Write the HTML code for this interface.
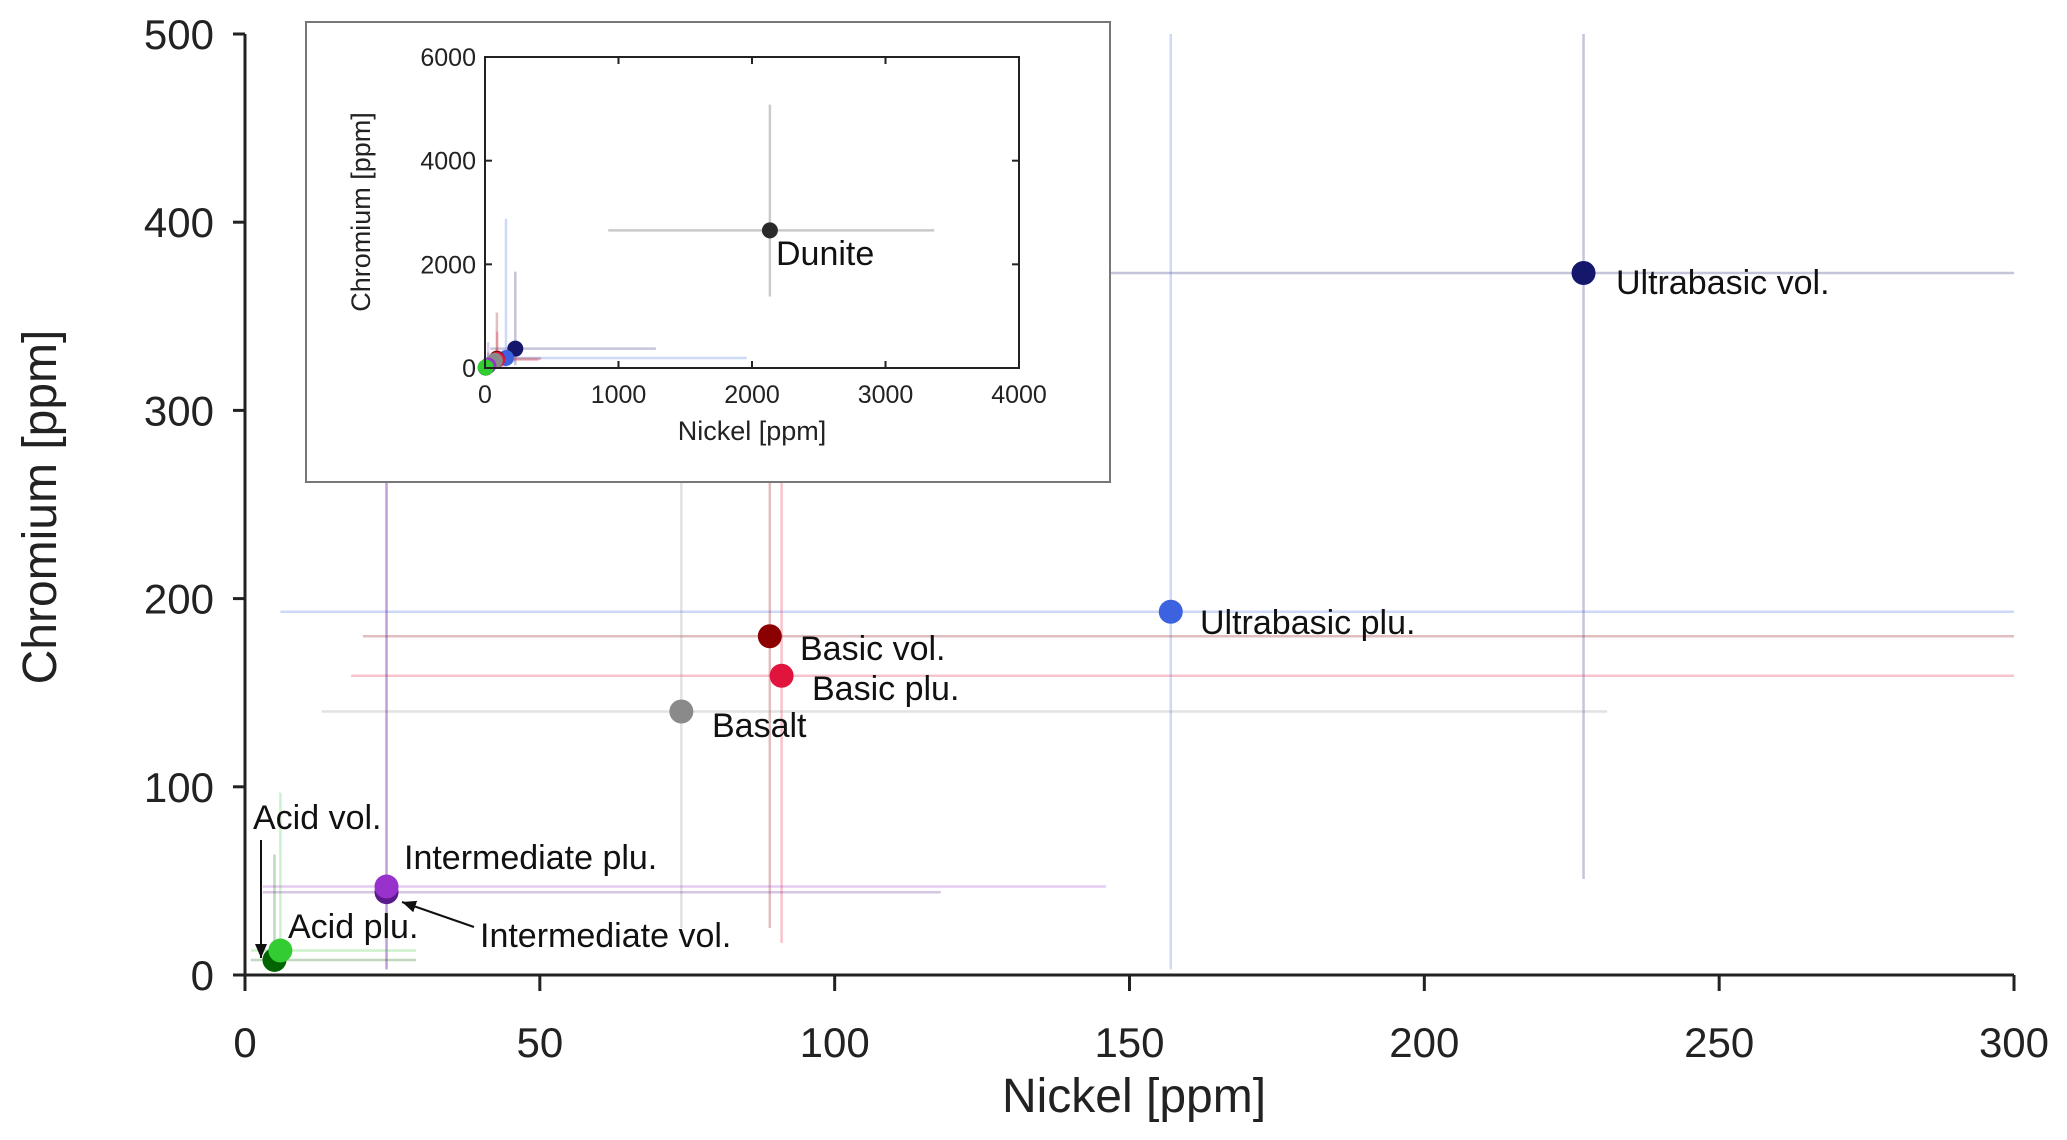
<!DOCTYPE html>
<html><head><meta charset="utf-8">
<style>
html,body{margin:0;padding:0;background:#fff;}
svg{display:block;font-family:"Liberation Sans",Arial,sans-serif;}
</style></head>
<body>
<svg id="chart" width="2067" height="1140" viewBox="0 0 2067 1140" xmlns="http://www.w3.org/2000/svg">
<g id="main"></g>
<g id="inset"></g>
</svg>
<script>
const names = ["Dunite","Ultrabasic vol.","Ultrabasic plu.","Basic vol.","Basic plu.","Basalt","Intermediate plu.","Intermediate vol.","Acid plu.","Acid vol."];
const nickel = [2134,227,157,89,91,74,24,24,6,5];
const chromium = [2655,373,193,180,159,140,47,44,13,8];
const nickelLow = [923,40,6,20,18,13,3,3,1,1];
const nickelHigh = [3365,1280,1960,420,400,231,146,118,29,29];
const chromiumLow = [1380,51,3,25,17,25,3,3,3,3];
const chromiumHigh = [5080,1860,2880,1070,700,330,500,300,97,64];
const colors = ["#2a2a2a","#14176b","#3c62e0","#8b0000","#e0143c","#8a8a8a","#9932cc","#5b1a8c","#33cc33","#006400"];
const mainXTicks = [0,50,100,150,200,250,300];
const mainYTicks = [0,100,200,300,400,500];
const insetXTicks = [0,1000,2000,3000,4000];
const insetYTicks = [0,2000,4000,6000];

const NS="http://www.w3.org/2000/svg";
function mk(parent,tag,attrs,text){const e=document.createElementNS(NS,tag);for(const k in attrs)e.setAttribute(k,attrs[k]);if(text!==undefined)e.textContent=text;parent.appendChild(e);return e;}

const M={x0:245,x1:2014,y0:975,y1:34,xmax:300,ymax:500};
const mx=v=>M.x0+(v/M.xmax)*(M.x1-M.x0);
const my=v=>M.y0-(v/M.ymax)*(M.y0-M.y1);
const main=document.getElementById('main');
const defs=mk(document.getElementById('chart'),'defs',{});
const cp=mk(defs,'clipPath',{id:'mclip'});mk(cp,'rect',{x:M.x0,y:M.y1,width:M.x1-M.x0,height:M.y0-M.y1});
const icp=mk(defs,'clipPath',{id:'iclip'});mk(icp,'rect',{x:485,y:57,width:534,height:311});
const mg=mk(main,'g',{'clip-path':'url(#mclip)'});
for(let i=1;i<names.length;i++){
  let e=mk(mg,'line',{x1:mx(nickelLow[i]),x2:mx(nickelHigh[i]),y1:my(chromium[i]),y2:my(chromium[i]),stroke:colors[i],'stroke-opacity':0.25,'stroke-width':2.5});
  
  
  e=mk(mg,'line',{x1:mx(nickel[i]),x2:mx(nickel[i]),y1:my(chromiumLow[i]),y2:my(chromiumHigh[i]),stroke:colors[i],'stroke-opacity':0.25,'stroke-width':2.5});
  
  
}
const order=[1,2,3,4,5,7,6,9,8];
for(const i of order){
  const c=mk(mg,'circle',{cx:mx(nickel[i]),cy:my(chromium[i]),r:12,fill:colors[i]});
  
  
}
mk(main,'line',{x1:M.x0,x2:M.x0,y1:M.y1,y2:M.y0,stroke:'#222','stroke-width':3});
mk(main,'line',{x1:M.x0,x2:M.x1,y1:M.y0,y2:M.y0,stroke:'#222','stroke-width':3});
for(const t of mainXTicks){
  mk(main,'line',{x1:mx(t),x2:mx(t),y1:M.y0,y2:M.y0+16,stroke:'#222','stroke-width':3});
  const l=mk(main,'text',{x:mx(t),y:1057,'font-size':42,'text-anchor':'middle',fill:'#222'},String(t));
  
  
}
for(const t of mainYTicks){
  mk(main,'line',{x1:M.x0-12,x2:M.x0,y1:my(t),y2:my(t),stroke:'#222','stroke-width':3});
  const l=mk(main,'text',{x:214,y:my(t)+15,'font-size':42,'text-anchor':'end',fill:'#222'},String(t));
  
  
}
let t=mk(main,'text',{x:1134,y:1112,'font-size':48,'text-anchor':'middle',fill:'#222'},'Nickel [ppm]');

t=mk(main,'text',{x:0,y:0,'font-size':48,'text-anchor':'middle',fill:'#222',transform:'translate(56,507) rotate(-90)'},'Chromium [ppm]');


const labels=[[1,1616,294],[2,1200,634],[3,800,660],[4,812,700],[5,712,737],[6,404,869],[7,480,947],[8,288,938],[9,253,829]];
for(const [i,x,y] of labels){
  const l=mk(main,'text',{x:x,y:y,'font-size':34,fill:'#111'},names[i]);
  
  
}
mk(defs,'marker',{id:'ah',markerWidth:8,markerHeight:8,refX:7,refY:4,orient:'auto'});
mk(defs.lastChild,'path',{d:'M0,1 L7,4 L0,7 Z',fill:'#111'});
let a=mk(main,'line',{x1:474,y1:927,x2:402,y2:902,stroke:'#111','stroke-width':2,'marker-end':'url(#ah)'});

a=mk(main,'line',{x1:261,y1:840,x2:261,y2:958,stroke:'#111','stroke-width':2,'marker-end':'url(#ah)'});


const inset=document.getElementById('inset');
mk(inset,'rect',{x:306,y:22,width:804,height:460,fill:'#fff',stroke:'#777','stroke-width':2});
const I={x0:485,x1:1019,y0:368,y1:57,xmax:4000,ymax:6000};
const ix=v=>I.x0+(v/I.xmax)*(I.x1-I.x0);
const iy=v=>I.y0-(v/I.ymax)*(I.y0-I.y1);
const ig=mk(inset,'g',{'clip-path':'url(#iclip)'});
for(let i=0;i<names.length;i++){
  let e=mk(ig,'line',{x1:ix(nickelLow[i]),x2:ix(nickelHigh[i]),y1:iy(chromium[i]),y2:iy(chromium[i]),stroke:colors[i],'stroke-opacity':0.25,'stroke-width':2.5});
  
  
  e=mk(ig,'line',{x1:ix(nickel[i]),x2:ix(nickel[i]),y1:iy(chromiumLow[i]),y2:iy(chromiumHigh[i]),stroke:colors[i],'stroke-opacity':0.25,'stroke-width':2.5});
  
  
}
for(const i of [0,1,2,3,4,5,7,6,9,8]){
  const c=mk(inset,'circle',{cx:ix(nickel[i]),cy:iy(chromium[i]),r:8,fill:colors[i]});
  
  
}
mk(inset,'rect',{x:I.x0,y:I.y1,width:I.x1-I.x0,height:I.y0-I.y1,fill:'none',stroke:'#222','stroke-width':2});
for(const v of insetXTicks){
  mk(inset,'line',{x1:ix(v),x2:ix(v),y1:I.y0,y2:I.y0-7,stroke:'#222','stroke-width':2});
  mk(inset,'line',{x1:ix(v),x2:ix(v),y1:I.y1,y2:I.y1+7,stroke:'#222','stroke-width':2});
  const l=mk(inset,'text',{x:ix(v),y:403,'font-size':25,'text-anchor':'middle',fill:'#222'},String(v));
  
  
}
for(const v of insetYTicks){
  mk(inset,'line',{x1:I.x0,x2:I.x0+7,y1:iy(v),y2:iy(v),stroke:'#222','stroke-width':2});
  mk(inset,'line',{x1:I.x1,x2:I.x1-7,y1:iy(v),y2:iy(v),stroke:'#222','stroke-width':2});
  const l=mk(inset,'text',{x:476,y:iy(v)+9,'font-size':25,'text-anchor':'end',fill:'#222'},String(v));
  
  
}
t=mk(inset,'text',{x:752,y:440,'font-size':27,'text-anchor':'middle',fill:'#222'},'Nickel [ppm]');

t=mk(inset,'text',{x:0,y:0,'font-size':27,'text-anchor':'middle',fill:'#222',transform:'translate(370,212) rotate(-90)'},'Chromium [ppm]');

t=mk(inset,'text',{x:776,y:265,'font-size':34,fill:'#111'},names[0]);

</script>
</body></html>
